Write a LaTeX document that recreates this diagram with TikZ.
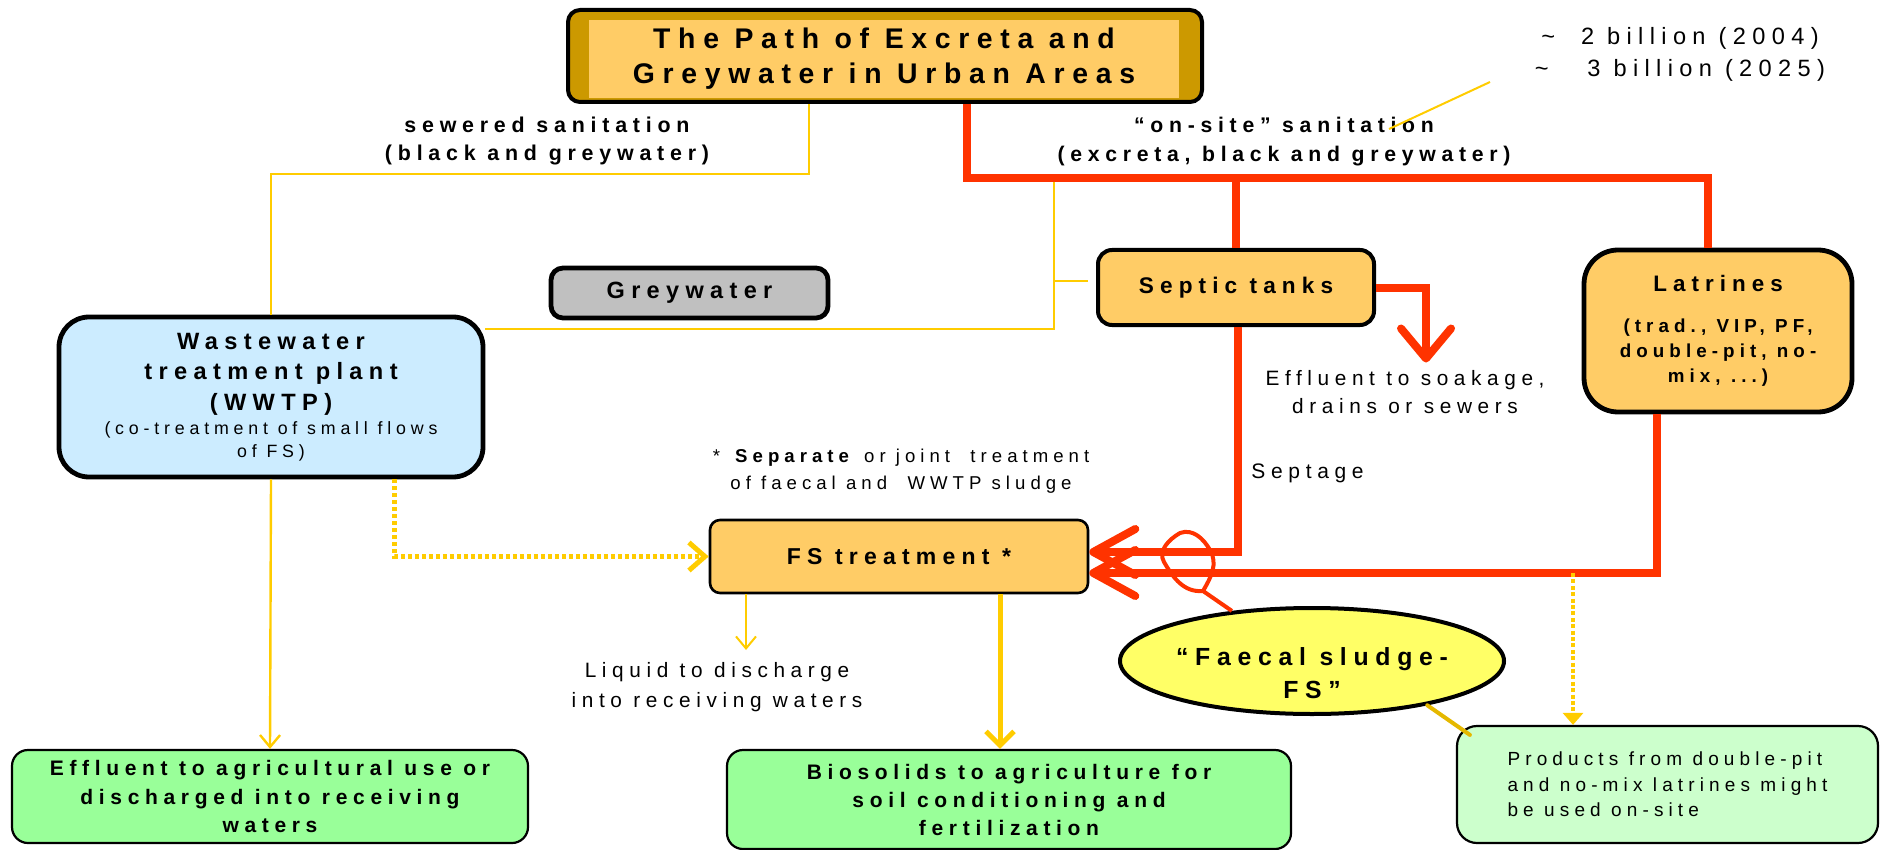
\documentclass[tikz,border=0pt]{standalone}
\usepackage{fontspec}
\setmainfont{Liberation Sans}[LetterSpace=27]
\usetikzlibrary{arrows.meta,shapes.geometric,positioning}

\definecolor{titlegold}{HTML}{CC9900}
\definecolor{boxorange}{HTML}{FFCC66}
\definecolor{plantblue}{HTML}{CCECFF}
\definecolor{greybox}{HTML}{C0C0C0}
\definecolor{usegreen}{HTML}{99FF99}
\definecolor{palegreen}{HTML}{CCFFCC}
\definecolor{sludgeyellow}{HTML}{FFFF66}
\definecolor{flowred}{HTML}{FF3300}
\definecolor{flowyellow}{HTML}{FFCC00}

\newcommand{\fsz}[2]{\fontsize{#1}{#2}\selectfont}

\tikzset{
  box/.style={draw=black, line width=2.4pt, align=center, inner sep=0pt},
  thinbox/.style={draw=black, line width=1.1pt, align=center, inner sep=0pt},
  txt/.style={align=center, inner sep=0pt},
  redline/.style={draw=flowred, line width=4pt},
  redarrow/.style={redline, -{Straight Barb[length=21pt,width=23pt,round]}},
  yline/.style={draw=flowyellow, line width=1pt},
  yarrow/.style={yline, -{Straight Barb[length=6pt,width=10pt]}},
  ythick/.style={draw=flowyellow, line width=2.5pt, -{Straight Barb[length=7pt,width=14pt]}},
  dotarrow/.style={draw=flowyellow, line width=2.5pt, dash pattern=on 2pt off 1.5pt, -{Straight Barb[length=8pt,width=14pt]}},
  dotarrowb/.style={draw=flowyellow, line width=1.8pt, dash pattern=on 2pt off 1.2pt, -{Triangle[length=6pt,width=10pt]}},
}

\begin{document}
\begin{tikzpicture}[x=0.5pt, y=-0.5pt]
  \useasboundingbox (0,0) rectangle (1883,850);

  % title
  \node (title) [box, line width=2pt, fill=titlegold, rounded corners=6pt, minimum width=317pt, minimum height=46pt] at (885,56) {};
  \node (titletext) [txt, fill=boxorange, minimum width=295pt, minimum height=39pt, font=\fsz{14.2}{17.5}\bfseries] at (884,59)
        {The Path of Excreta and\\Greywater in Urban Areas};

  \node (billions) [txt, font=\fsz{11.8}{16}] at (1680,54) {\textasciitilde\ \ 2 billion (2004)\\\textasciitilde\ \ \ 3 billion (2025)};
  \node (sewered) [txt, font=\fsz{10.7}{14}\bfseries] at (547,141) {sewered sanitation\\(black and greywater)};
  \node (onsite) [txt, font=\fsz{10.6}{14.5}\bfseries] at (1284,142) {“on-site” sanitation\\(excreta, black and greywater)};

  % boxes
  \node (wwtp) [box, fill=plantblue, rounded corners=15pt, minimum width=212pt, minimum height=80pt, font=\fsz{11.8}{15.25}\bfseries] at (271,397)
        {Wastewater\\treatment plant\\(WWTP)\\[-3pt]\mdseries\fsz{8.9}{11.5}(co-treatment of small flows\\[-3.75pt]\mdseries\fsz{8.9}{11.5}of FS)};
  \node (greywater) [box, fill=greybox, rounded corners=6pt, minimum width=138.5pt, minimum height=25pt, font=\fsz{11.75}{14}\bfseries] at (689.5,293)
        {Greywater};
  \node (septic) [box, line width=2pt, fill=boxorange, rounded corners=7pt, minimum width=138pt, minimum height=37.5pt, font=\fsz{11.3}{14}\bfseries] at (1236,287.5)
        {Septic tanks};
  \node (latrines) [box, fill=boxorange, rounded corners=17pt, minimum width=134pt, minimum height=81pt, font=\bfseries\fsz{9.4}{12.5}] at (1718,331)
        {\fsz{11.2}{14}Latrines\\[8pt](trad., VIP, PF,\\double-pit, no-\\mix, ...)};
  \node (fs) [thinbox, line width=1.3pt, fill=boxorange, rounded corners=5pt, minimum width=189pt, minimum height=36.5pt, font=\fsz{11.5}{14}\bfseries] at (899,556.5)
        {FS treatment *};
  \node (effl) [thinbox, fill=usegreen, rounded corners=8pt, minimum width=258pt, minimum height=46.5pt, font=\fsz{10.5}{14.25}\bfseries] at (270,796.5)
        {Effluent to agricultural use or\\discharged into receiving\\waters};
  \node (bio) [thinbox, fill=usegreen, rounded corners=8pt, minimum width=282pt, minimum height=49.5pt, font=\fsz{10.5}{14}\bfseries] at (1009,799.5)
        {Biosolids to agriculture for\\soil conditioning and\\fertilization};
  \node (products) [thinbox, fill=palegreen, rounded corners=10pt, minimum width=210.5pt, minimum height=58.5pt, align=left, font=\fsz{9.5}{12.75}] at (1667.5,784.5)
        {Products from double-pit\\and no-mix latrines might\\be used on-site};
  \node (fsell) [ellipse, draw=black, line width=2pt, fill=sludgeyellow, minimum width=192pt, minimum height=53pt, inner sep=0pt,
        label={[txt, yshift=-6pt, font=\fsz{12.4}{16.5}\bfseries]center:“Faecal sludge-\\FS”}] at (1312,661) {};

  % side texts
  \node (soakage) [txt, font=\fsz{10.4}{14}] at (1405,392) {Effluent to soakage,\\drains or sewers};
  \node (septage) [txt, anchor=west, font=\fsz{10.5}{14}] at (1251,473) {Septage};
  \node (separate) [txt, font=\fsz{9.3}{13.5}] at (901,471.5) {* \textbf{Separate} or joint \ treatment\\of faecal and \ WWTP sludge};
  \node (liquid) [txt, font=\fsz{10.4}{15}] at (717,687) {Liquid to discharge\\into receiving waters};

  % bends
  \coordinate (redsplit) at (967,178);
  \coordinate (sewsplit) at (809,174);
  \coordinate (greysplit) at (1054,178);
  \coordinate (sepbend) at (1238,552);
  \coordinate (latbend) at (1657,573);
  \coordinate (liqtip) at (746,650);
  \coordinate (billtip) at (1490,82);
  \coordinate (billend) at (1389,129);
  \coordinate (prodin) at ([xshift=-47.25pt]products.north);

  % sewered and greywater lines
  \draw [yline] (title.south -| sewsplit) -- (sewsplit) -| (wwtp.north);
  \draw [yline] (greysplit) |- ([yshift=34pt]wwtp.east);
  \draw [yline] (greysplit |- septic.west) ++(0,-7) -- ([yshift=3.5pt,xshift=-4pt]septic.west);
  \draw [yline] (billtip) -- (billend);

  % on-site flows
  \draw [redline] (title.south -| redsplit) -- (redsplit) -| ([xshift=-5pt]latrines.north);
  \draw [redline] (septic.north |- redsplit) -- (septic.north);
  \draw [redarrow, -{Straight Barb[length=15pt,width=25pt,round]}] (septic.east) -| ++(50,75);
  \draw [redarrow] (septic.south -| sepbend) -- (sepbend) -- (fs.east |- sepbend);
  \draw [redarrow] (latrines.south -| latbend) -- (latbend) -- (fs.east |- latbend);
  \draw [draw=flowred, line width=2pt] (fsell.148) -- (1203,591)
        to[out=185,in=-60] (1164,562) to[out=120,in=-150] (1180,533)
        to[out=20,in=120] (1210,550) to[out=-60,in=60] (1203,591);

  % yellow flows
  \draw [yarrow, line width=1.2pt] (wwtp.south) -- (effl.north);
  \draw [dotarrow] ([xshift=61.5pt]wwtp.south) |- (fs.west);
  \draw [yarrow] (fs.south -| liqtip) -- (liqtip);
  \draw [ythick] ([xshift=50.5pt]fs.south) -- ([xshift=50.5pt]fs.south |- bio.north);
  \draw [dotarrowb] (latbend -| prodin) -- (prodin);
  \draw [draw=flowyellow!90!black, line width=2pt, line cap=round] (fsell.-21) -- ([shift={(7pt,-5pt)}]products.north west);

\end{tikzpicture}
\end{document}
